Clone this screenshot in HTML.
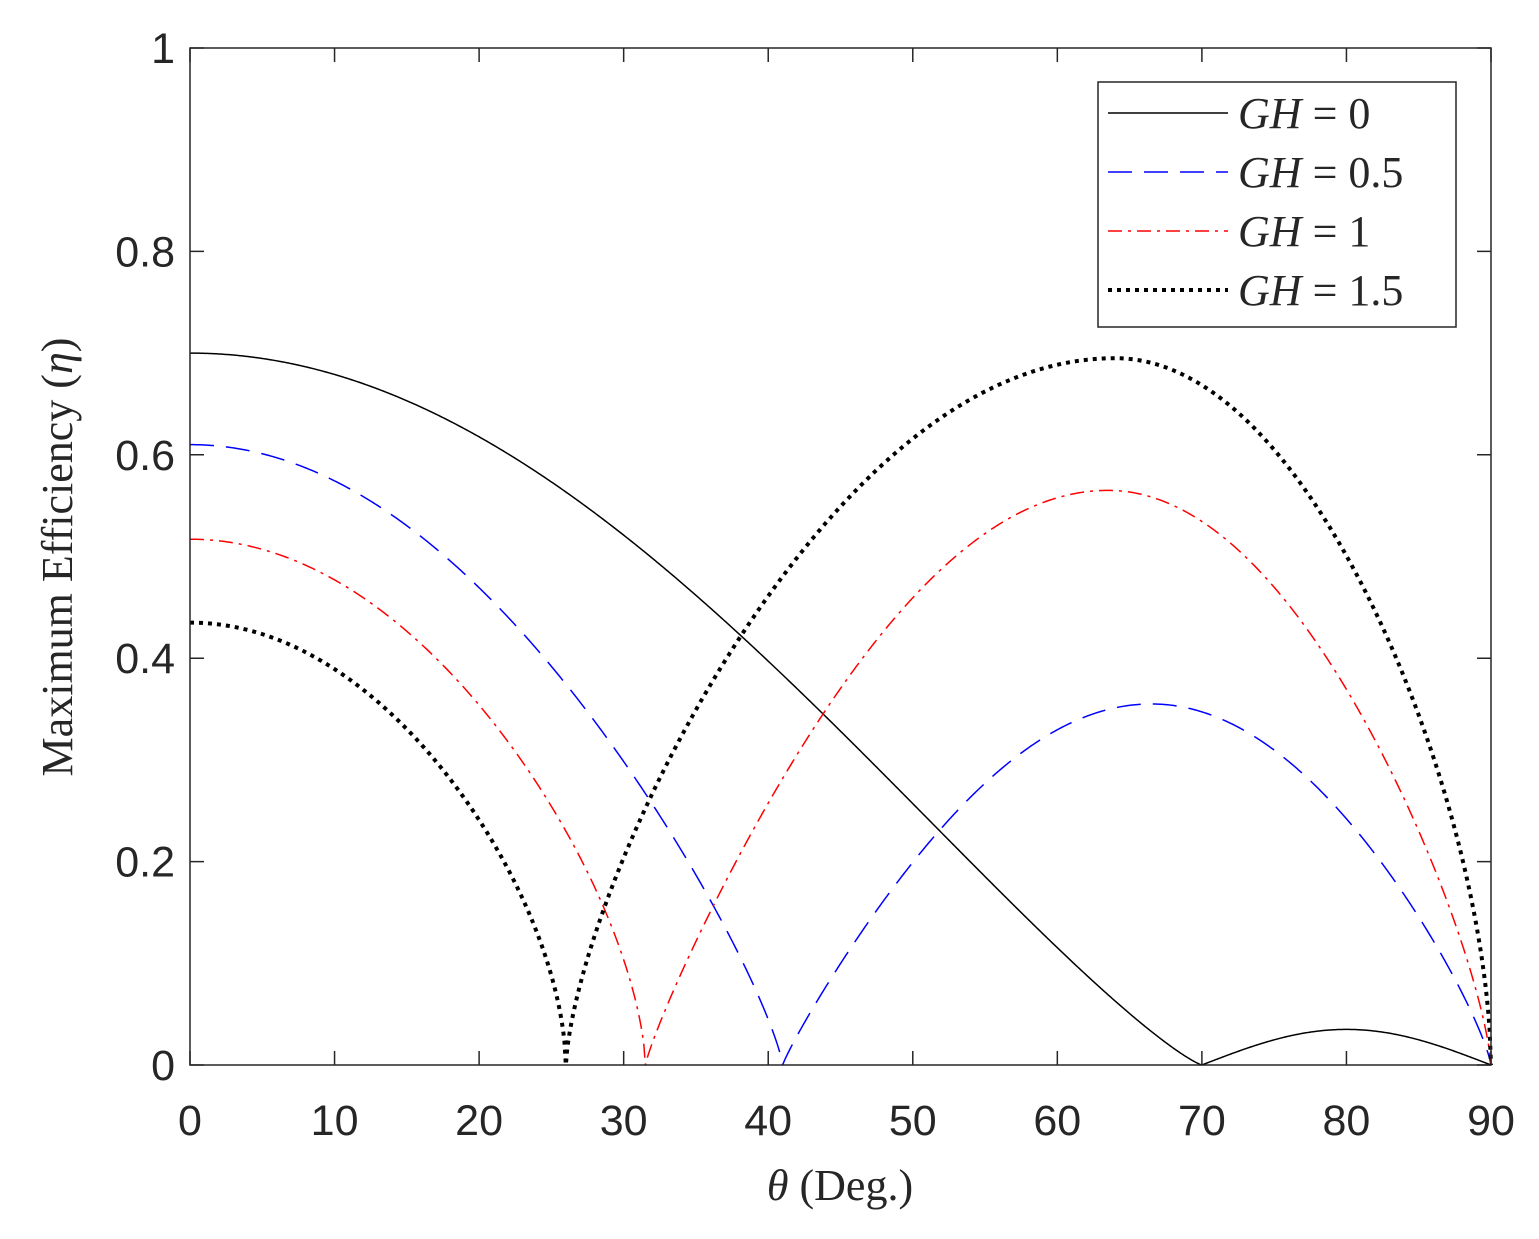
<!DOCTYPE html>
<html><head><meta charset="utf-8"><style>
html,body{margin:0;padding:0;background:#fff;}
svg{display:block;}
.t{font-family:"Liberation Sans",sans-serif;font-size:43px;fill:#262626;}
.s{font-family:"Liberation Serif",serif;font-size:44px;fill:#262626;}
</style></head><body>
<svg id="c" width="1539" height="1239" viewBox="0 0 1539 1239" xmlns="http://www.w3.org/2000/svg">
<rect x="0" y="0" width="1539" height="1239" fill="#fff"/>
<g id="ticks" stroke="#262626" stroke-width="1.5"></g>
<g id="series" fill="none"></g>
<rect x="190" y="48" width="1301" height="1017" fill="none" stroke="#262626" stroke-width="1.5"/>
<g class="t" text-anchor="middle">
<text x="190" y="1135">0</text><text x="334.6" y="1135">10</text><text x="479.1" y="1135">20</text>
<text x="623.7" y="1135">30</text><text x="768.2" y="1135">40</text><text x="912.8" y="1135">50</text>
<text x="1057.3" y="1135">60</text><text x="1201.9" y="1135">70</text><text x="1346.4" y="1135">80</text>
<text x="1491" y="1135">90</text>
</g>
<g class="t" text-anchor="end">
<text x="175" y="1080">0</text><text x="175" y="876.6">0.2</text><text x="175" y="673.2">0.4</text>
<text x="175" y="469.8">0.6</text><text x="175" y="266.4">0.8</text><text x="175" y="63">1</text>
</g>
<text class="s" x="840" y="1200" text-anchor="middle"><tspan font-style="italic">θ</tspan> (Deg.)</text>
<text class="s" transform="translate(72,557) rotate(-90)" text-anchor="middle">Maximum Efficiency (<tspan font-style="italic">η</tspan>)</text>
<rect x="1098" y="82" width="358" height="245" fill="#fff" stroke="#262626" stroke-width="1.5"/>
<line x1="1108" y1="113" x2="1228" y2="113" stroke="#000" stroke-width="1.5"/>
<line x1="1108" y1="172" x2="1228" y2="172" stroke="#0000ff" stroke-width="1.5" stroke-dasharray="24,12"/>
<line x1="1108" y1="231" x2="1228" y2="231" stroke="#ff0000" stroke-width="1.5" stroke-dasharray="14,6,3,6"/>
<line x1="1108" y1="290" x2="1228" y2="290" stroke="#000" stroke-width="4" stroke-dasharray="4,5"/>
<g class="s" font-size="44">
<text x="1238" y="128"><tspan font-style="italic">GH</tspan> = 0</text>
<text x="1238" y="187"><tspan font-style="italic">GH</tspan> = 0.5</text>
<text x="1238" y="246"><tspan font-style="italic">GH</tspan> = 1</text>
<text x="1238" y="305"><tspan font-style="italic">GH</tspan> = 1.5</text>
</g>
</svg>
<script>
(function(){
var NS="http://www.w3.org/2000/svg";
function X(t){return 190+t*1301/90;}
function Y(e){return 1065-e*1017;}
var tk=document.getElementById("ticks"),d="";
for(var i=0;i<=9;i++){var x=X(i*10);d+="M"+x+" 1065V1051M"+x+" 48V62";}
for(var j=0;j<=5;j++){var y=Y(j*0.2);d+="M190 "+y+"H204M1491 "+y+"H1477";}
var p=document.createElementNS(NS,"path");p.setAttribute("d",d);tk.appendChild(p);
var S=[
 {c:"#000",w:1.5,da:"",L1:[.7,70,1.2],L2:[.035,70,80,90,1,1]},
 {c:"#0000ff",w:1.5,da:"24,12",L1:[.61,41,.8],L2:[.355,41,66.5,90,.9,.8]},
 {c:"#ff0000",w:1.5,da:"14,6,3,6",L1:[.517,31.5,.62],L2:[.565,31.5,63.5,90,.87,.73]},
 {c:"#000",w:4,da:"4,5",L1:[.435,26,.57],L2:[.695,26,64,90,.68,.58]}
];
function f(s,t){
 var L=s.L1;
 if(t<=L[1]) return L[0]*Math.pow(Math.max(0,Math.cos(Math.PI/2*t/L[1])),L[2]);
 var M=s.L2;
 if(t<=M[2]) return M[0]*Math.pow(Math.max(0,Math.sin(Math.PI/2*(t-M[1])/(M[2]-M[1]))),M[4]);
 return M[0]*Math.pow(Math.max(0,Math.sin(Math.PI/2*(M[3]-t)/(M[3]-M[2]))),M[5]);
}
var g=document.getElementById("series");
S.forEach(function(s){
 var ts=[];for(var t=0;t<=90.0001;t+=0.1)ts.push(t);
 ts.push(s.L1[1]);ts.sort(function(a,b){return a-b;});
 var dd="";ts.forEach(function(t,i){dd+=(i?"L":"M")+X(t).toFixed(2)+" "+Y(f(s,t)).toFixed(2);});
 var p=document.createElementNS(NS,"path");p.setAttribute("d",dd);p.setAttribute("stroke",s.c);
 p.setAttribute("stroke-width",s.w);p.setAttribute("stroke-linejoin","round");
 if(s.da)p.setAttribute("stroke-dasharray",s.da);g.appendChild(p);});
})();
</script>
</body></html>
